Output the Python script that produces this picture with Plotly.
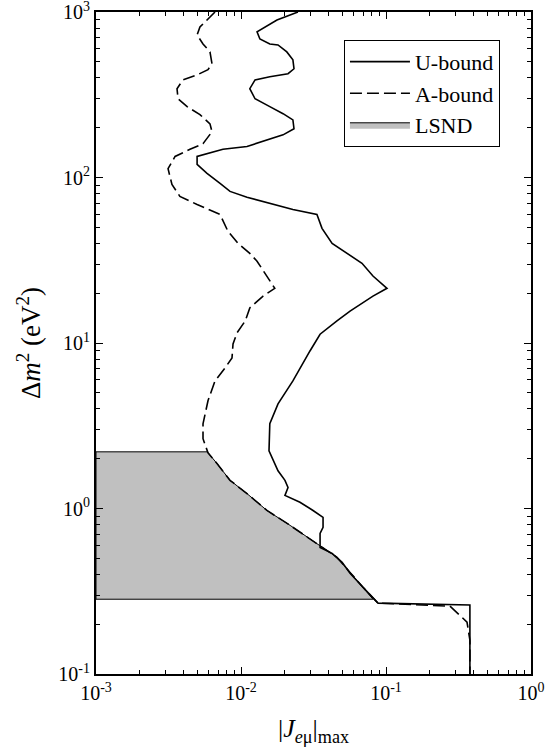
import plotly.graph_objects as go

# U-bound (solid): |J_emu|max vs Delta m^2
ub_x = [0.0247, 0.0177, 0.0129, 0.0135, 0.0158, 0.0180, 0.0207, 0.0228, 0.0232, 0.0211,
        0.0158, 0.0125, 0.0115, 0.0125, 0.0158, 0.0195, 0.0228, 0.0232, 0.0195, 0.0142,
        0.0110, 0.00751, 0.00498, 0.00498, 0.00583, 0.00717, 0.00840, 0.0110, 0.0158, 0.0228,
        0.0334, 0.0362, 0.0425, 0.0538, 0.0683, 0.0813, 0.1016, 0.0813, 0.0565, 0.0459,
        0.0351, 0.0299, 0.0264, 0.0228, 0.0180, 0.0158, 0.0156, 0.0180, 0.0201, 0.0211,
        0.0201, 0.0255, 0.0314, 0.0368, 0.0368, 0.0351, 0.0351, 0.0425, 0.0498, 0.0565,
        0.0694, 0.0881, 0.379, 0.379]
ub_y = [1000, 895, 758, 687, 641, 632, 574, 514, 454, 424,
        406, 389, 344, 299, 268, 243, 223, 197, 181, 165,
        154, 148, 134, 120, 106, 92, 82.4, 75.9, 69.6, 64.1,
        59.8, 49.3, 40.0, 34.8, 30.3, 25.4, 21.4, 19.2, 15.6, 13.6,
        11.3, 8.95, 7.46, 5.90, 4.29, 3.25, 2.23, 1.69, 1.48, 1.34,
        1.20, 1.09, 0.973, 0.883, 0.769, 0.707, 0.582, 0.536, 0.473, 0.406,
        0.334, 0.268, 0.261, 0.1]

# A-bound (dashed)
ab_x = [0.00662, 0.00521, 0.00498, 0.00547, 0.00611, 0.00631, 0.00592, 0.00498, 0.00398, 0.00362,
        0.00368, 0.00425, 0.00521, 0.00611, 0.00631, 0.00547, 0.00445, 0.00351, 0.00314, 0.00334,
        0.00379, 0.00445, 0.00498, 0.00717, 0.00813, 0.00953, 0.0115, 0.0129, 0.0147, 0.0171,
        0.0142, 0.0115, 0.0107, 0.00938, 0.00881, 0.00867, 0.00776, 0.00662, 0.00592, 0.00547,
        0.00547, 0.00592, 0.00683, 0.00840, 0.0110, 0.0151, 0.0218, 0.0334, 0.0459, 0.0565,
        0.0694, 0.0881, 0.276, 0.362, 0.379, 0.379]
ab_y = [1000, 812, 726, 641, 574, 486, 448, 417, 389, 344,
        299, 268, 240, 211, 189, 160, 148, 134, 113, 90.8,
        76.9, 71.6, 68.7, 59.8, 47.3, 40.0, 34.8, 31.2, 26.1, 21.4,
        19.2, 16.3, 13.6, 11.5, 9.86, 8.13, 7.07, 5.90, 4.48, 3.25,
        2.64, 2.17, 1.87, 1.48, 1.23, 0.973, 0.791, 0.615, 0.507, 0.411,
        0.334, 0.268, 0.257, 0.206, 0.160, 0.1]

# LSND allowed region
lsnd_x = [0.001, 0.00585, 0.00683, 0.00840, 0.0110, 0.0151, 0.0218, 0.0334, 0.0459, 0.0565,
          0.0694, 0.0813, 0.001, 0.001]
lsnd_y = [2.2, 2.2, 1.87, 1.48, 1.23, 0.973, 0.791, 0.615, 0.507, 0.411,
          0.334, 0.283, 0.283, 2.2]

x_major = [1e-3, 1e-2, 1e-1, 1e0]
x_labels = ["10<sup>-3</sup>", "10<sup>-2</sup>", "10<sup>-1</sup>", "10<sup>0</sup>"]
y_major = [1e-1, 1e0, 1e1, 1e2, 1e3]
y_labels = ["10<sup>-1</sup>", "10<sup>0</sup>", "10<sup>1</sup>", "10<sup>2</sup>", "10<sup>3</sup>"]
minor_digits = [2, 3, 4, 5, 6, 7, 8, 9]

x_minor = [d * m for d in x_major[:-1] for m in minor_digits]
y_minor = [d * m for d in y_major[:-1] for m in minor_digits]

FONT = "Liberation Serif, Times New Roman, serif"

fig = go.Figure()
fig.add_trace(go.Scatter(x=lsnd_x, y=lsnd_y, mode="lines", fill="toself",
                         fillcolor="#c0c0c0", line=dict(color="black", width=1),
                         name="LSND"))
fig.add_trace(go.Scatter(x=ab_x, y=ab_y, mode="lines",
                         line=dict(color="black", width=1.6, dash="12px,5px"),
                         name="A-bound"))
fig.add_trace(go.Scatter(x=ub_x, y=ub_y, mode="lines",
                         line=dict(color="black", width=1.6),
                         name="U-bound"))

axis_common = dict(type="log", showgrid=False, zeroline=False, showline=True,
                   linecolor="black", linewidth=2, mirror="allticks",
                   ticks="inside", ticklen=7, tickwidth=1, tickcolor="black",
                   ticklabeloverflow="allow", automargin=False,
                   tickfont=dict(family=FONT, size=20, color="black"))

fig.update_xaxes(**axis_common, range=[-3, 0], tickvals=x_major, ticktext=x_labels,
                 minor=dict(tickvals=x_minor, ticks="inside", ticklen=4, tickcolor="black", showgrid=False),
                 title=dict(text="|<i>J</i><sub><i>e</i>μ</sub>|<sub>max</sub>",
                            font=dict(family=FONT, size=26, color="black"), standoff=16))
fig.update_yaxes(**axis_common, range=[-1, 3], tickvals=y_major, ticktext=y_labels,
                 minor=dict(tickvals=y_minor, ticks="inside", ticklen=4, tickcolor="black", showgrid=False),
                 title=dict(text="Δ<i>m</i><sup>2</sup> (eV<sup>2</sup>)",
                            font=dict(family=FONT, size=27, color="black"), standoff=10))

fig.update_layout(
    width=545, height=756,
    margin=dict(l=96, r=14, t=12, b=82),
    paper_bgcolor="white", plot_bgcolor="white",
    font=dict(family=FONT, color="black"),
    legend=dict(x=0.57, y=0.958, xanchor="left", yanchor="top",
                bgcolor="white", bordercolor="black", borderwidth=1,
                font=dict(family=FONT, size=22, color="black"),
                itemwidth=60,
                traceorder="reversed", tracegroupgap=0),
)

fig.write_html("out.html")
